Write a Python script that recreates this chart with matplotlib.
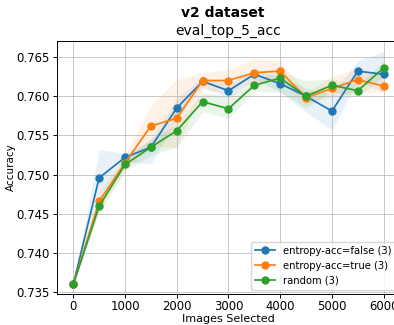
import matplotlib
matplotlib.use("Agg")
import matplotlib.pyplot as plt
import numpy as np

images = [0, 500, 1000, 1500, 2000, 2500, 3000, 3500, 4000, 4500, 5000, 5500, 6000]

# entropy-acc=false
acc_false = [0.7360, 0.7496, 0.7522, 0.7535, 0.7585, 0.7619, 0.7607, 0.7628, 0.7616, 0.7600, 0.7581, 0.7632, 0.7628]
low_false = [0.7360, 0.7470, 0.7516, 0.7514, 0.7570, 0.7612, 0.7598, 0.7622, 0.7605, 0.7580, 0.7557, 0.7620, 0.7605]
high_false = [0.7360, 0.7532, 0.7527, 0.7545, 0.7597, 0.7625, 0.7615, 0.7634, 0.7625, 0.7610, 0.7602, 0.7645, 0.7657]

# entropy-acc=true
acc_true = [0.7360, 0.7466, 0.7515, 0.7562, 0.7572, 0.7620, 0.7620, 0.7630, 0.7632, 0.7598, 0.7610, 0.7621, 0.7613]
low_true = [0.7360, 0.7455, 0.7505, 0.7536, 0.7535, 0.7608, 0.7605, 0.7618, 0.7620, 0.7590, 0.7600, 0.7605, 0.7605]
high_true = [0.7360, 0.7478, 0.7525, 0.7589, 0.7621, 0.7630, 0.7634, 0.7648, 0.7645, 0.7605, 0.7625, 0.7635, 0.7625]

# random
acc_rand = [0.7360, 0.7460, 0.7513, 0.7535, 0.7556, 0.7593, 0.7584, 0.7614, 0.7623, 0.7600, 0.7614, 0.7607, 0.7636]
low_rand = [0.7360, 0.7452, 0.7505, 0.7525, 0.7535, 0.7580, 0.7572, 0.7606, 0.7605, 0.7585, 0.7606, 0.7599, 0.7625]
high_rand = [0.7360, 0.7468, 0.7521, 0.7545, 0.7565, 0.7605, 0.7600, 0.7622, 0.7632, 0.7620, 0.7622, 0.7615, 0.7645]

series = [
    ("entropy-acc=false (3)", acc_false, low_false, high_false, "#1f77b4"),
    ("entropy-acc=true (3)", acc_true, low_true, high_true, "#ff7f0e"),
    ("random (3)", acc_rand, low_rand, high_rand, "#2ca02c"),
]

fig = plt.figure(figsize=(3.94, 3.25), dpi=100)
ax = fig.add_axes([0.1454, 0.0954, 0.869, 0.7794])

for label, acc, low, high, col in series:
    ax.fill_between(images, low, high, color=col, alpha=0.1, linewidth=0)
    ax.plot(images, acc, "-o", color=col, label=label, linewidth=1.25, markersize=5)

ax.set_xlim(-310, 6310)
ax.set_ylim(0.73478, 0.76708)
ax.set_xticks([0, 1000, 2000, 3000, 4000, 5000, 6000])
ax.set_yticks([0.735, 0.740, 0.745, 0.750, 0.755, 0.760, 0.765])
ax.tick_params(labelsize=8.4, length=2.9, width=0.7)
ax.tick_params(axis="x", pad=1.6)
ax.tick_params(axis="y", pad=2.5)
for s in ax.spines.values():
    s.set_linewidth(0.7)
ax.grid(True, color="#b0b0b0", alpha=0.7, linewidth=0.7)
ax.set_xlabel("Images Selected", fontsize=8, labelpad=0.5)
ax.set_ylabel("Accuracy", fontsize=7.5, labelpad=0)
ax.set_title("eval_top_5_acc", fontsize=10, pad=4)
# the suptitle sits over the (clipped) axes centre, not the figure centre
fig.suptitle("v2 dataset", fontsize=10, fontweight="bold", x=0.566, y=0.982)
ax.legend(loc="lower right", fontsize=7.2, borderaxespad=0.4)

plt.savefig("out.png", dpi=100)
